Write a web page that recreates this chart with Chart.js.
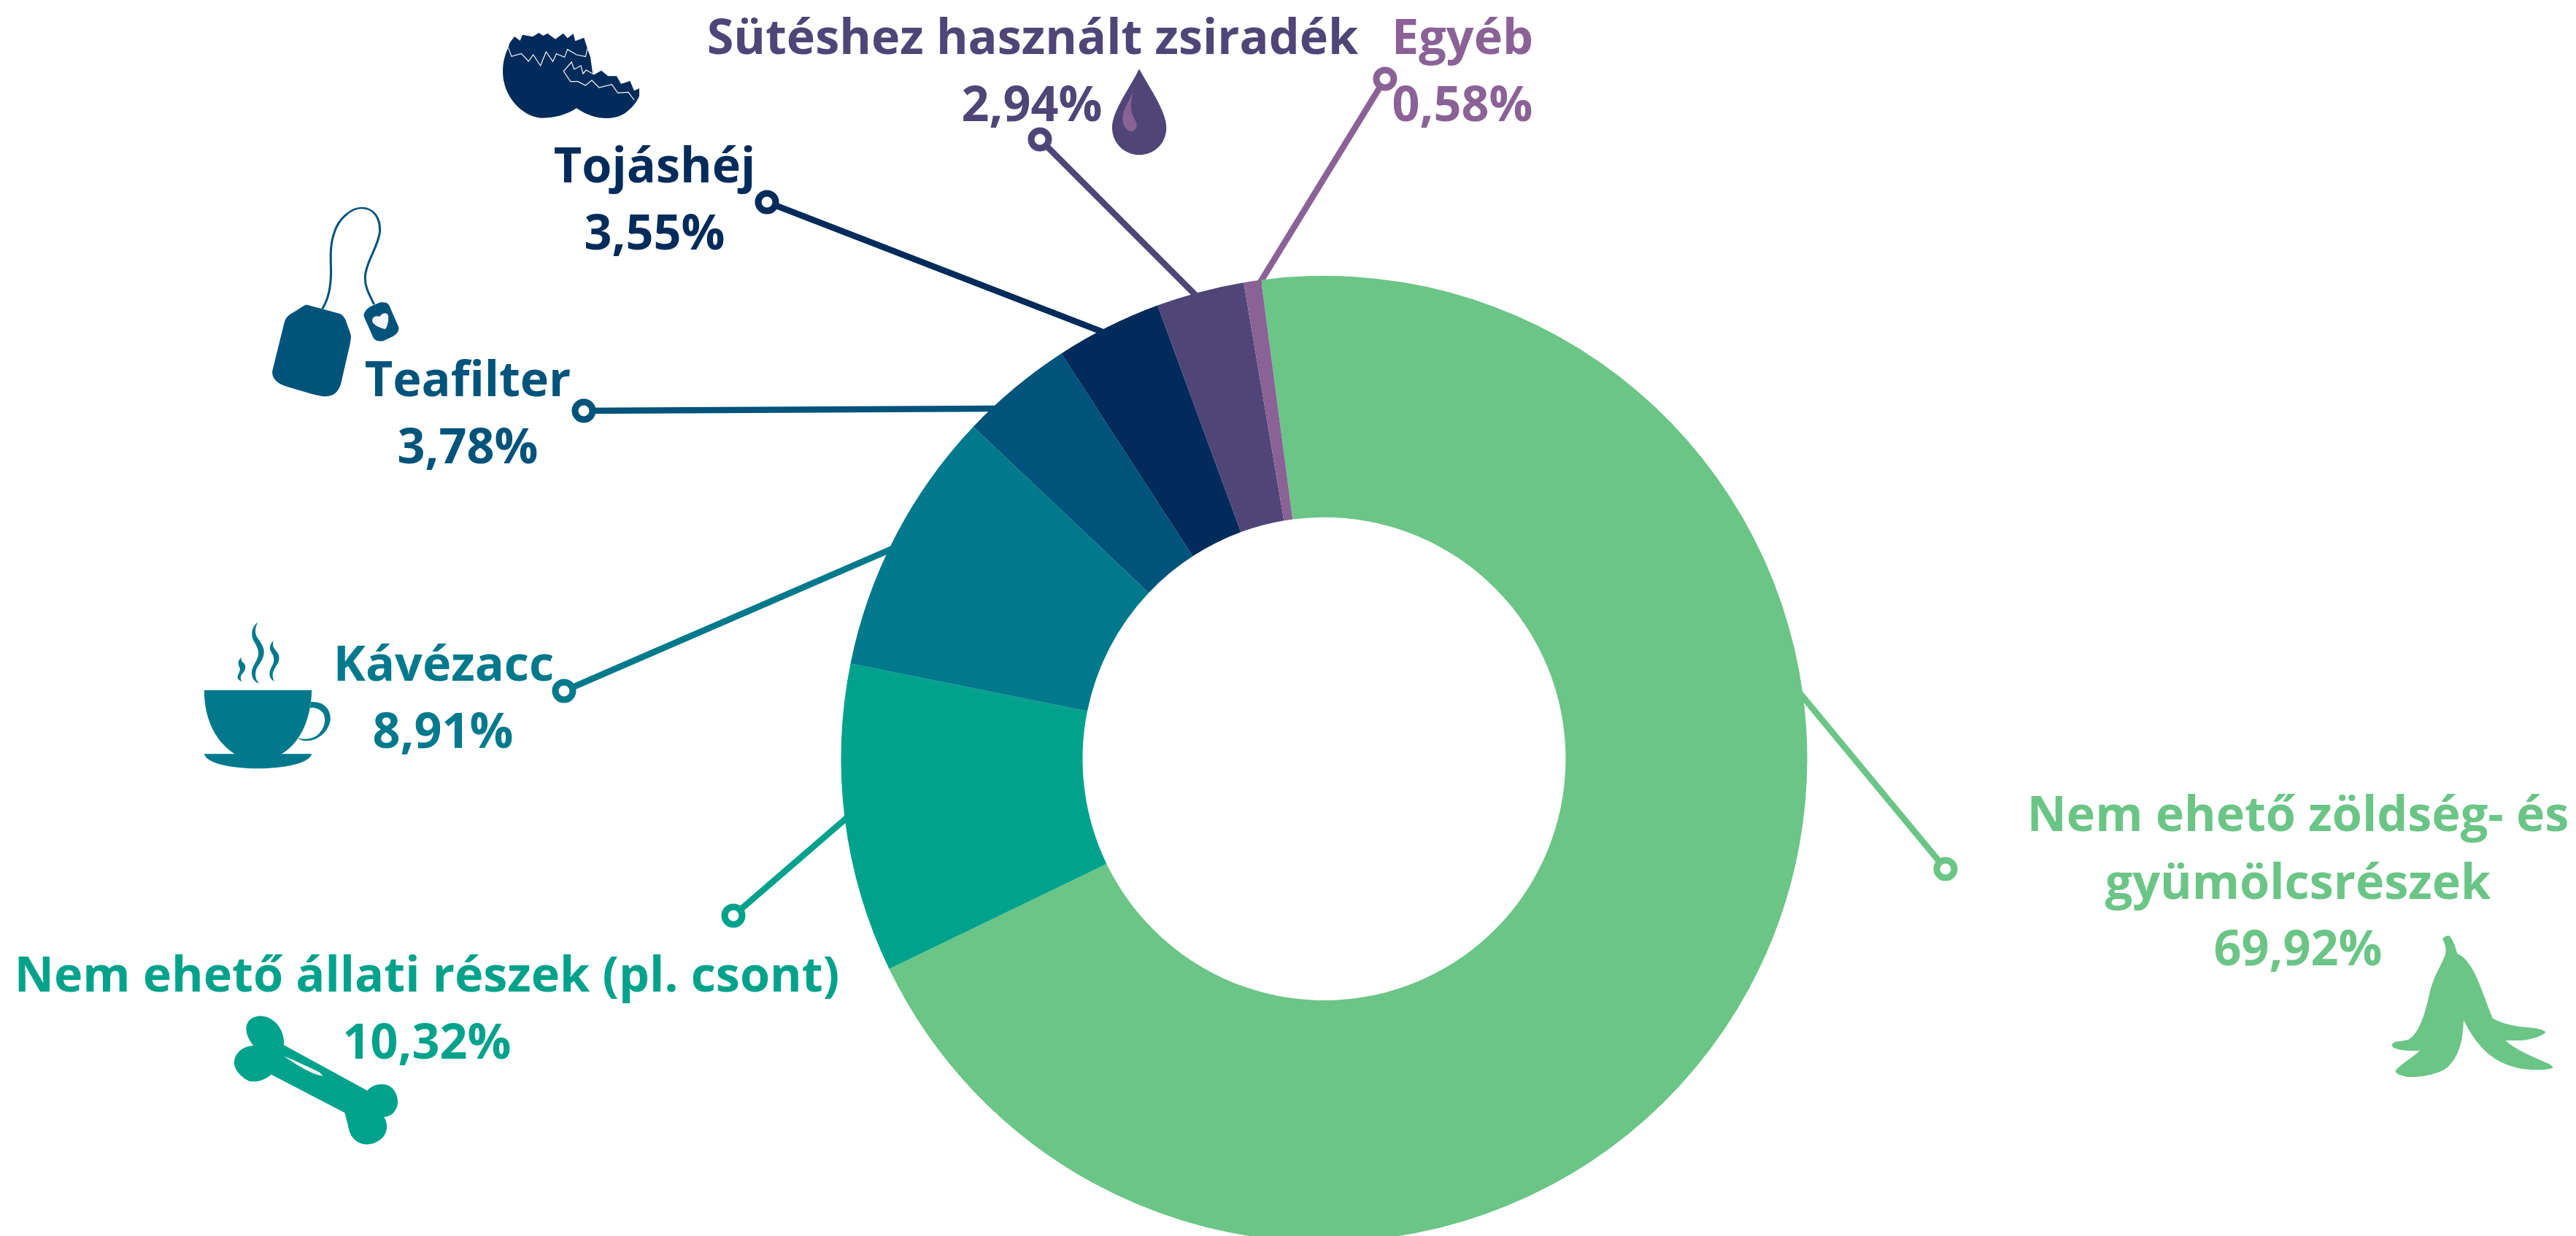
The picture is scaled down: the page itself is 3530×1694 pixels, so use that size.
<!DOCTYPE html>
<html lang="hu">
<head>
<meta charset="utf-8">
<title>Konyhai hulladék összetétele</title>
<script src="https://cdn.jsdelivr.net/npm/chart.js@4"></script>
<style>
html,body{margin:0;padding:0;background:#fff;width:3530px;height:1694px;overflow:hidden}
#wrap{position:relative;width:3530px;height:1694px}
canvas{display:block}
</style>
</head>
<body>
<div id="wrap"><canvas id="c" width="3530" height="1694"></canvas></div>
<script>
const categories = ['Nem ehető zöldség- és gyümölcsrészek','Nem ehető állati részek (pl. csont)','Kávézacc','Teafilter','Tojáshéj','Sütéshez használt zsiradék','Egyéb'];
const shares = [69.92,10.32,8.91,3.78,3.55,2.94,0.58];
const colors = ['#6BC586','#00A28B','#00798C','#00537A','#002B5A','#4F4577','#8A6296'];

// Where each slice's callout goes: text lines, text centre, baselines, ring, and where on the slice the leader lands.
const callouts = [
  {lines:['Nem ehető zöldség- és','gyümölcsrészek'], x:3149, y:[1139,1232], vx:3149, vy:1323, ring:[2666,1191], at:.356},
  {lines:['Nem ehető állati részek (pl. csont)'],       x:585,  y:[1359],      vx:585,  vy:1451, ring:[1005,1255], at:.506},
  {lines:['Kávézacc'],                                  x:608,  y:[933],       vx:607,  vy:1025, ring:[773,947],   at:.455},
  {lines:['Teafilter'],                                 x:641,  y:[543],       vx:641,  vy:635,  ring:[800,563],   at:.25},
  {lines:['Tojáshéj'],                                  x:897,  y:[250],       vx:897,  vy:342,  ring:[1051,277],  at:.44},
  {lines:['Sütéshez használt zsiradék'],                x:1415, y:[74],        vx:1414, vy:166,  ring:[1425,191],  at:.45},
  {lines:['Egyéb'],                                     x:2004, y:[74],        vx:2004, vy:166,  ring:[1898,108],  at:.9}
];

const FONT = 'bold 66.5px "Open Sans", sans-serif';
const PALE = '#F4F6FB';

function fillPath(ctx, d, color){ ctx.fillStyle = color; ctx.fill(new Path2D(d)); }

function icon(ctx, ox, oy, sx, sy, draw){
  ctx.save(); ctx.translate(ox, oy); ctx.scale(sx, sy); draw(); ctx.restore();
}

function drawIcons(ctx){
  // egg shell
  icon(ctx, 675, 35, 1/3, 1/3, () => {
    const c = colors[4];
    fillPath(ctx,'M65,90 L70,72 L90,45 L113,62 L123,38 L165,46 L190,30 L208,42 L226,32 L258,56 L290,32 L308,52 L332,34 L340,64 L376,50 L390,95 L402,130 L412,200 L345,340 C300,370 250,380 200,380 C120,375 42,290 42,190 C42,150 52,115 65,90Z', c);
    fillPath(ctx,'M292,188 L325,150 L335,180 L363,165 L372,198 L385,183 L418,202 L447,185 L475,208 L510,208 L528,240 L565,228 L582,268 L603,258 L603,290 C590,320 570,340 545,360 C500,390 420,392 345,340Z', c);
    ctx.strokeStyle = '#fff'; ctx.lineWidth = 3.5; ctx.lineJoin = 'miter';
    ctx.stroke(new Path2D('M65,92 L78,127 L118,115 L148,147 L167,120 L197,165 L220,108 L248,148 L262,116 L296,130 L308,98 L345,120 L382,128 L390,95'));
    ctx.stroke(new Path2D('M418,202 L385,183 L372,198 L363,165 L335,180 L325,150 L292,188 L320,230 L350,230 L382,246 L408,225 L438,255 L490,242 L515,277 L558,274 L582,306'));
  });
  // oil drop
  icon(ctx, 1510, 85, 1/3, 1/3, () => {
    fillPath(ctx,'M153,28 C120,100 42,200 42,270 C42,335 95,382 153,382 C215,382 265,335 265,270 C265,200 185,90 153,28Z', colors[5]);
    fillPath(ctx,'M128,118 C115,165 85,190 85,230 C85,265 105,285 120,285 C135,285 143,270 143,258 C143,240 122,225 120,190 C118,165 125,140 128,118Z', colors[6]);
  });
  // bone
  icon(ctx, 310, 1380, 1/3, 1/3, () => {
    fillPath(ctx,'M237,157 L580,344 C600,320 640,310 670,325 C705,345 715,400 695,425 C680,450 655,452 648,452 C665,475 665,510 645,535 C620,565 570,575 540,555 C510,535 505,510 500,485 L487,435 L185,278 C160,300 125,312 95,305 C60,290 30,255 33,225 C35,190 70,160 112,160 C85,125 70,85 95,55 C115,35 150,30 185,50 C225,75 240,120 237,157Z', colors[1]);
    fillPath(ctx,'M237,202 C290,225 345,250 385,270 L398,284 C355,280 290,240 237,202Z', PALE);
  });
  // banana peel
  icon(ctx, 3260, 1270, 1/3, 1/3, () => {
    fillPath(ctx,'M262,50 C268,40 280,35 290,38 C305,55 315,85 322,112 C350,122 375,155 395,195 C420,245 445,325 468,377 C510,400 560,410 610,414 C645,417 680,423 685,435 C670,450 630,463 590,468 L520,468 C560,505 630,535 690,560 C710,568 718,578 714,582 C680,592 610,592 560,578 C460,555 395,480 348,385 C345,470 330,530 285,575 C250,608 170,620 115,618 C85,612 65,603 68,592 C90,565 135,540 168,510 C130,512 85,510 60,498 C50,490 52,480 65,475 C85,470 100,470 120,465 C165,440 190,360 210,265 C225,205 255,160 272,118 C280,90 270,70 262,50Z', colors[0]);
  });
  // coffee cup
  icon(ctx, 250, 830, 1/2.613, 1/3, () => {
    const c = colors[2];
    fillPath(ctx,'M78,348 L463,348 C460,480 415,570 355,610 L463,610 C455,650 360,670 270,670 C180,670 85,650 78,610 L187,610 C120,560 78,470 78,348Z', c);
    fillPath(ctx,'M460,396 C510,392 530,430 530,465 C528,510 490,558 440,556 C430,555 420,552 413,545 C440,552 470,550 490,525 C510,500 515,470 505,445 C495,425 475,418 457,420Z', c);
    fillPath(ctx,'M270,68 C245,90 245,120 255,145 C268,170 272,180 272,200 C270,225 248,250 248,275 C248,300 260,315 275,320 C262,305 258,285 265,260 C275,240 292,220 292,190 C292,165 275,145 265,125 C258,105 262,85 270,68Z', c);
    fillPath(ctx,'M327,143 C310,160 310,180 320,195 C330,215 330,230 320,250 C308,275 308,300 330,312 C320,295 320,275 335,250 C350,225 350,205 335,185 C322,170 322,155 327,143Z', c);
    fillPath(ctx,'M212,212 C198,225 198,240 205,255 C210,270 195,285 198,298 C200,306 206,310 213,312 C205,298 208,285 218,275 C228,262 228,245 218,235 C210,228 210,220 212,212Z', c);
  });
  // tea bag
  icon(ctx, 330, 260, 1/2.613, 1/3, () => {
    const c = colors[3];
    fillPath(ctx,'M237,473 L355,510 C365,515 370,525 375,535 L392,590 C397,605 393,620 390,640 L360,790 C352,830 335,850 300,850 C280,850 240,835 160,808 C125,795 110,770 113,745 L155,550 C160,525 170,515 190,503 L225,478 C230,474 234,473 237,473Z', c);
    ctx.strokeStyle = c; ctx.lineWidth = 8;
    ctx.stroke(new Path2D('M292,490 C315,445 322,400 323,340 C322,280 318,230 335,175 C350,120 395,75 432,75 C475,75 500,115 498,170 C495,230 445,300 445,365 C445,405 465,440 477,472'));
    fillPath(ctx,'M440,515 C445,495 455,485 475,475 L500,463 C515,462 528,465 532,478 L565,565 C568,580 558,595 545,603 L510,622 C495,625 480,620 475,610 L442,525Z', c);
    fillPath(ctx,'M497,522 C505,508 525,500 528,520 C530,540 525,565 517,573 C500,568 480,560 472,545 C465,525 485,515 497,522Z', PALE);
  });
}

const calloutPlugin = {
  id: 'callouts',
  beforeDatasetsDraw(chart){
    const ctx = chart.ctx, arcs = chart.getDatasetMeta(0).data;
    ctx.save();
    ctx.lineWidth = 8.5;
    callouts.forEach((c, i) => {
      const a = arcs[i], t = a.startAngle + (a.endAngle - a.startAngle) * c.at, r = a.outerRadius - 4;
      ctx.strokeStyle = colors[i];
      ctx.beginPath();
      ctx.moveTo(c.ring[0], c.ring[1]);
      ctx.lineTo(a.x + Math.cos(t) * r, a.y + Math.sin(t) * r);
      ctx.stroke();
    });
    ctx.restore();
  },
  afterDraw(chart){
    const ctx = chart.ctx;
    ctx.save();
    drawIcons(ctx);
    ctx.font = FONT; ctx.textAlign = 'center'; ctx.textBaseline = 'alphabetic';
    callouts.forEach((c, i) => {
      ctx.fillStyle = colors[i];
      c.lines.forEach((l, k) => ctx.fillText(l, c.x, c.y[k]));
      ctx.fillText(shares[i].toFixed(2).replace('.', ',') + '%', c.vx, c.vy);
      ctx.beginPath();
      ctx.arc(c.ring[0], c.ring[1], 12, 0, Math.PI * 2);
      ctx.fillStyle = '#fff'; ctx.fill();
      ctx.lineWidth = 9; ctx.strokeStyle = colors[i]; ctx.stroke();
    });
    ctx.restore();
  }
};

new Chart(document.getElementById('c'), {
  type: 'doughnut',
  data: { labels: categories, datasets: [{ data: shares, backgroundColor: colors, borderWidth: 0, hoverOffset: 0 }] },
  options: {
    responsive: false,
    animation: false,
    rotation: -7.5,
    radius: 662,
    cutout: '50%',
    layout: { padding: { left: 1153, right: 1054, top: 386, bottom: 0 } },
    plugins: { legend: { display: false }, tooltip: { enabled: false } }
  },
  plugins: [calloutPlugin]
});
</script>
</body>
</html>
